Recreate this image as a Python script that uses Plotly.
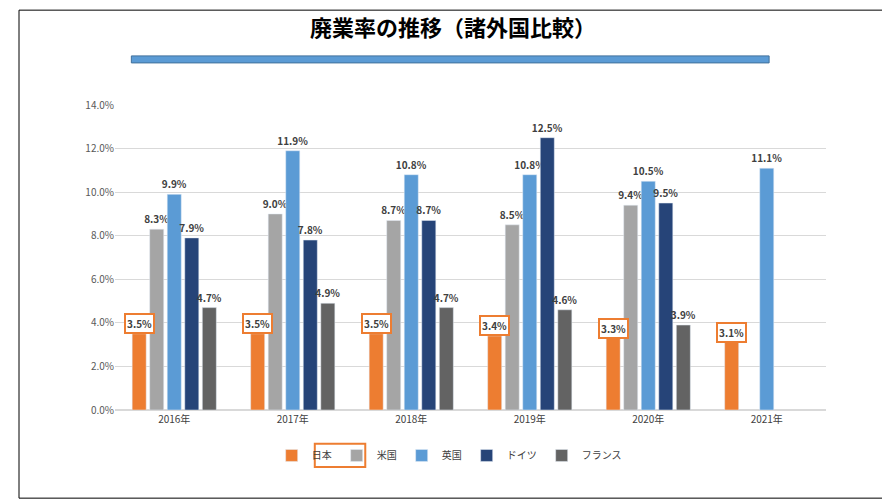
import plotly.graph_objects as go

years = ["2016年", "2017年", "2018年", "2019年", "2020年", "2021年"]
japan = [3.5, 3.5, 3.5, 3.4, 3.3, 3.1]
usa = [8.3, 9.0, 8.7, 8.5, 9.4, None]
uk = [9.9, 11.9, 10.8, 10.8, 10.5, 11.1]
germany = [7.9, 7.8, 8.7, 12.5, 9.5, None]
france = [4.7, 4.9, 4.7, 4.6, 3.9, None]

series = [("日本", japan, "#ed7d31"), ("米国", usa, "#a5a5a5"), ("英国", uk, "#5b9bd5"),
          ("ドイツ", germany, "#264478"), ("フランス", france, "#636363")]

fig = go.Figure()
for name, vals, color in series:
    is_jp = name == "日本"
    fig.add_trace(go.Bar(
        x=years, y=vals, name=name, marker_color=color,
        text=None if is_jp else [None if v is None else f"<b>{v:.1f}%</b>" for v in vals],
        textposition="outside", cliponaxis=False, constraintext="none",
        textfont=dict(size=10, color="#404040", family="Noto Sans CJK JP"),
    ))

# boxed labels for Japan
for yr, v in zip(years, japan):
    fig.add_annotation(x=yr, y=v, xref="x", yref="y", xshift=-35, yshift=10,
                       text=f"<b>{v:.1f}%</b>", showarrow=False,
                       font=dict(size=10, color="#404040"),
                       bordercolor="#ed7d31", borderwidth=2, borderpad=1, bgcolor="white")

fig.update_layout(
    width=890, height=502,
    paper_bgcolor="white", plot_bgcolor="white",
    font=dict(family="Noto Sans CJK JP", color="#404040"),
    margin=dict(l=107, r=72, t=97, b=100),
    barmode="group", bargap=0.26, bargroupgap=0.2,
    title=dict(text="<b>廃業率の推移（諸外国比較）</b>", x=0.5, y=0.975, xanchor="center",
               font=dict(size=22, color="black")),
    legend=dict(orientation="h", x=0.47, xanchor="center", y=-0.149, yanchor="middle",
                bgcolor="rgba(0,0,0,0)", font=dict(size=10, color="#404040")),
    shapes=[
        dict(type="rect", xref="paper", yref="paper", x0=0.023, x1=0.92, y0=1.138, y1=1.161,
             fillcolor="#5b9bd5", line=dict(color="#41719c", width=1)),
        dict(type="rect", xref="paper", yref="paper", x0=0.281, x1=0.352, y0=-0.187, y1=-0.111,
             line=dict(color="#ed7d31", width=2)),
        dict(type="rect", xref="paper", yref="paper", x0=-0.135, x1=1.08, y0=-0.289, y1=1.311,
             line=dict(color="black", width=1)),
    ],
)
fig.update_yaxes(range=[0, 14], dtick=2, tickformat=".1f", ticksuffix="%",
                 gridcolor="#d9d9d9", zeroline=True, zerolinecolor="#d9d9d9",
                 tickfont=dict(size=10, color="#595959"))
fig.update_xaxes(tickfont=dict(size=10, color="#404040"), showline=True, linecolor="#d9d9d9")

fig.write_html("out.html")
